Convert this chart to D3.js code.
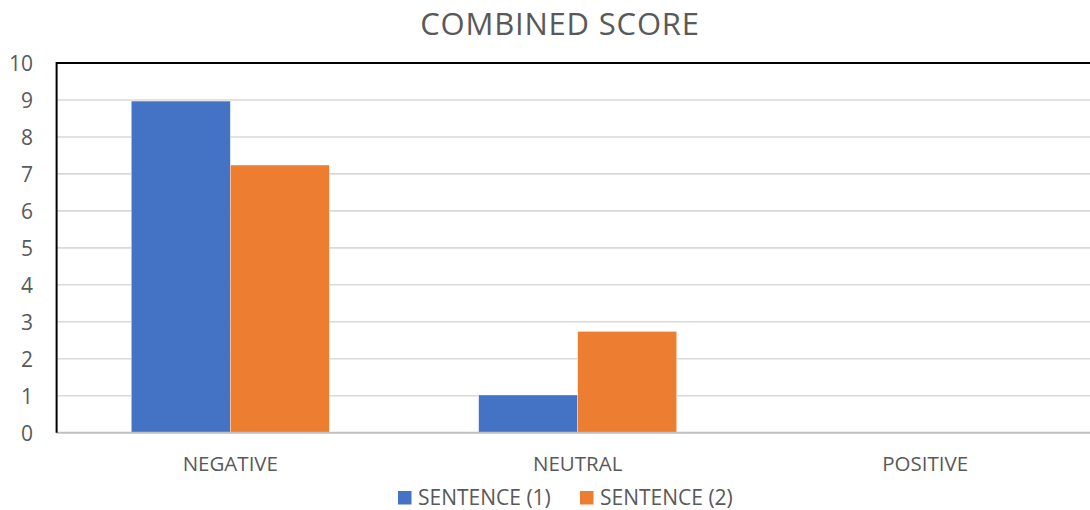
<!DOCTYPE html>
<html>
<head>
<meta charset="utf-8">
<script src="https://cdn.jsdelivr.net/npm/d3@7"></script>
<style>
  html, body { margin: 0; padding: 0; background: #fff; overflow: hidden; }
  svg { display: block; }
  text { font-family: "Open Sans", "Noto Sans", sans-serif; fill: #595959; }
</style>
</head>
<body>
<svg id="chart" width="1090" height="510"></svg>
<script>
const categories = ["NEGATIVE", "NEUTRAL", "POSITIVE"];
const seriesNames = ["SENTENCE (1)", "SENTENCE (2)"];
const sentence1 = [8.97, 1.02, 0];
const sentence2 = [7.24, 2.74, 0];
const yTicks = [0, 1, 2, 3, 4, 5, 6, 7, 8, 9, 10];
const colors = ["#4472C4", "#ED7D31"];

const svg = d3.select("#chart");
const W = 1090, H = 510;
const plot = { left: 56.6, right: 1098.8, top: 63, bottom: 432.7 };

const x0 = d3.scaleBand().domain(categories)
  .range([plot.left, plot.right]).paddingInner(0.43).paddingOuter(0.215);
const x1 = d3.scaleBand().domain(seriesNames).range([0, x0.bandwidth()]);
const y = d3.scaleLinear().domain([0, 10]).range([plot.bottom, plot.top]);

// title
svg.append("text").attr("x", 560).attr("y", 35)
  .attr("text-anchor", "middle").attr("font-size", 31)
  .attr("letter-spacing", 0.8).text("COMBINED SCORE");

// gridlines
svg.append("g").selectAll("line").data(yTicks.filter(d => d > 0 && d < 10)).join("line")
  .attr("x1", plot.left).attr("x2", W)
  .attr("y1", d => y(d)).attr("y2", d => y(d))
  .attr("stroke", "#d9d9d9").attr("stroke-width", 1.6);

// y tick labels
const yAxis = d3.axisLeft(y).tickValues(yTicks).tickSize(0).tickPadding(0).tickFormat(d3.format("d"));
const gy = svg.append("g").attr("transform", "translate(33,0)").call(yAxis);
gy.select(".domain").remove();
gy.selectAll("text").attr("font-size", 21).attr("fill", "#595959")
  .attr("font-family", "'Open Sans', sans-serif").attr("dy", "0.36em");

// bars
const rows = categories.map((c, i) => ({ cat: c, vals: [sentence1[i], sentence2[i]] }));
const groups = svg.append("g").selectAll("g").data(rows).join("g")
  .attr("transform", d => `translate(${x0(d.cat)},0)`);
groups.selectAll("rect").data(d => d.vals.map((v, j) => ({ v, name: seriesNames[j], j }))).join("rect")
  .attr("x", d => x1(d.name)).attr("width", x1.bandwidth())
  .attr("y", d => y(d.v)).attr("height", d => y(0) - y(d.v))
  .attr("fill", d => colors[d.j])
  .attr("stroke", "#ffffff").attr("stroke-width", 0.6).attr("stroke-opacity", 0.6);

// bottom axis line
svg.append("line").attr("x1", plot.left).attr("x2", W)
  .attr("y1", plot.bottom).attr("y2", plot.bottom)
  .attr("stroke", "#bfbfbf").attr("stroke-width", 2);

// plot frame: top and left edges
svg.append("line").attr("x1", plot.left).attr("x2", W)
  .attr("y1", plot.top).attr("y2", plot.top)
  .attr("stroke", "#000").attr("stroke-width", 2);
svg.append("line").attr("x1", plot.left).attr("x2", plot.left)
  .attr("y1", plot.top - 1).attr("y2", plot.bottom)
  .attr("stroke", "#000").attr("stroke-width", 2);

// category labels
const xAxis = d3.axisBottom(x0).tickSize(0).tickPadding(0);
const gx = svg.append("g").attr("transform", "translate(0,471)").call(xAxis);
gx.select(".domain").remove();
gx.selectAll("text").attr("font-size", 20.5).attr("fill", "#595959")
  .attr("font-family", "'Open Sans', sans-serif").attr("dy", 0);

// legend
const legendItems = [{ name: seriesNames[0], x: 398 }, { name: seriesNames[1], x: 580 }];
const lg = svg.append("g").selectAll("g").data(legendItems).join("g")
  .attr("transform", d => `translate(${d.x},0)`);
lg.append("rect").attr("x", 0).attr("y", 491).attr("width", 13.5).attr("height", 13.5)
  .attr("fill", (d, i) => colors[i]);
lg.append("text").attr("x", 20).attr("y", 505).attr("font-size", 21).text(d => d.name);
</script>
</body>
</html>
